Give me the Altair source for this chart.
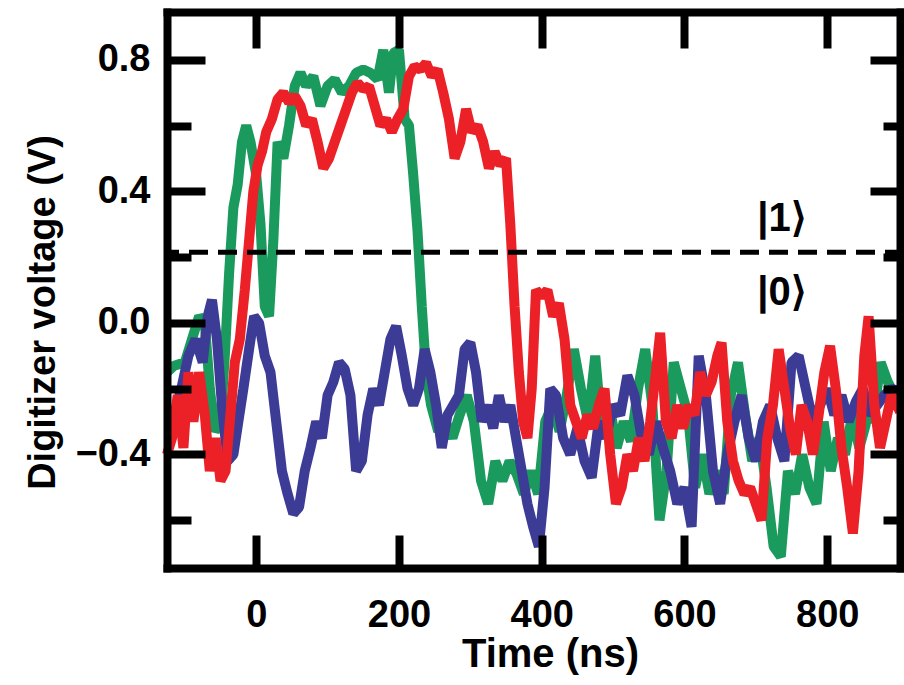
import altair as alt
import pandas as pd

# ---------------- data ----------------
green_t = [-125, -115, -100, -90, -80, -72, -65, -58, -50, -44, -38, -32, -26, -20, -14, -8, 0, 6, 12, 18,
           24, 30, 38, 46, 54, 62, 70, 80, 90, 100, 110, 120, 130, 140, 150, 160, 170, 178, 186, 192,
           200, 208, 214, 220, 226, 232, 238, 245, 255, 265, 275, 285, 295, 305, 315, 325, 335, 345, 355, 365,
           375, 385, 395, 405, 415, 425, 435, 445, 455, 465, 475, 485, 495, 505, 515, 525, 535, 545, 555, 565,
           575, 585, 595, 605, 615, 625, 635, 645, 655, 665, 675, 685, 695, 705, 715, 725, 735, 745, 755, 765,
           775, 785, 795, 805, 815, 825, 835, 845, 855, 865, 875, 885, 902]
green_v = [-0.15, -0.13, -0.12, -0.05, 0.02, 0.0, -0.20, -0.33, -0.30, -0.10, 0.15, 0.35, 0.42, 0.55, 0.60, 0.55, 0.45, 0.30, 0.05, 0.02,
           0.25, 0.55, 0.50, 0.60, 0.72, 0.76, 0.72, 0.75, 0.66, 0.72, 0.74, 0.70, 0.72, 0.76, 0.77, 0.76, 0.74, 0.83, 0.70, 0.82,
           0.83, 0.62, 0.60, 0.45, 0.28, 0.05, -0.15, -0.25, -0.33, -0.30, -0.35, -0.28, -0.22, -0.30, -0.48, -0.55, -0.42, -0.48, -0.42, -0.46,
           -0.52, -0.45, -0.52, -0.30, -0.25, -0.33, -0.22, -0.08, -0.20, -0.30, -0.10, -0.35, -0.25, -0.38, -0.30, -0.36, -0.20, -0.08, -0.25, -0.60,
           -0.45, -0.12, -0.20, -0.28, -0.50, -0.40, -0.52, -0.45, -0.52, -0.22, -0.12, -0.28, -0.42, -0.35, -0.50, -0.68, -0.71, -0.45, -0.52, -0.40,
           -0.50, -0.55, -0.30, -0.45, -0.35, -0.40, -0.28, -0.38, -0.30, -0.28, -0.12, -0.18, -0.25]

blue_t = [-125, -115, -105, -95, -85, -75, -68, -62, -55, -48, -40, -32, -25, -18, -10, -3, 4, 12, 20, 28,
          36, 44, 52, 60, 68, 76, 84, 92, 100, 108, 116, 124, 132, 140, 148, 156, 164, 172, 180, 188,
          196, 204, 212, 220, 228, 236, 244, 252, 260, 268, 276, 284, 292, 300, 308, 316, 324, 332, 340, 348,
          356, 364, 372, 380, 388, 396, 404, 412, 420, 430, 440, 450, 460, 470, 480, 490, 500, 510, 520, 530,
          540, 550, 560, 570, 580, 590, 600, 610, 620, 630, 640, 650, 660, 670, 680, 690, 700, 710, 720, 730,
          740, 750, 760, 770, 780, 790, 800, 810, 820, 830, 840, 850, 860, 870, 880, 890, 902]
blue_v = [-0.27, -0.28, -0.20, -0.10, -0.05, -0.12, 0.02, 0.07, -0.05, -0.25, -0.42, -0.40, -0.30, -0.20, -0.08, 0.02, 0.0, -0.10, -0.15, -0.30,
          -0.45, -0.52, -0.58, -0.56, -0.45, -0.38, -0.30, -0.35, -0.22, -0.18, -0.12, -0.14, -0.22, -0.45, -0.42, -0.28, -0.20, -0.25, -0.15, -0.05,
          -0.01, -0.10, -0.20, -0.25, -0.20, -0.08, -0.15, -0.25, -0.38, -0.28, -0.25, -0.22, -0.08, -0.06, -0.15, -0.30, -0.25, -0.32, -0.22, -0.30,
          -0.25, -0.35, -0.45, -0.55, -0.62, -0.68, -0.50, -0.20, -0.22, -0.35, -0.40, -0.32, -0.42, -0.47, -0.30, -0.35, -0.25, -0.28, -0.16, -0.22,
          -0.35, -0.40, -0.30, -0.38, -0.45, -0.55, -0.50, -0.62, -0.10, -0.22, -0.45, -0.55, -0.40, -0.30, -0.22, -0.35, -0.42, -0.30, -0.25, -0.35,
          -0.42, -0.12, -0.10, -0.20, -0.30, -0.25, -0.20, -0.28, -0.22, -0.30, -0.24, -0.20, -0.28, -0.25, -0.22, -0.20, -0.21]

red_t = [-125, -118, -110, -102, -95, -88, -80, -72, -65, -57, -50, -43, -37, -30, -23, -16, -10, -4, 2, 8,
         14, 22, 30, 38, 46, 54, 62, 70, 78, 86, 94, 102, 110, 118, 126, 134, 142, 150, 158, 166,
         174, 182, 190, 198, 206, 214, 222, 230, 238, 246, 254, 262, 270, 278, 286, 294, 302, 310, 318, 326,
         334, 342, 350, 356, 362, 368, 374, 380, 386, 392, 400, 408, 416, 424, 432, 440, 448, 456, 464, 472,
         480, 488, 496, 504, 512, 520, 528, 536, 544, 552, 560, 566, 574, 582, 590, 598, 606, 614, 622, 630,
         638, 646, 652, 660, 668, 676, 684, 692, 700, 708, 716, 724, 732, 740, 748, 756, 764, 772, 780, 788,
         796, 804, 812, 820, 828, 836, 844, 852, 858, 866, 874, 882, 890, 902]
red_v = [-0.40, -0.35, -0.22, -0.38, -0.15, -0.30, -0.15, -0.28, -0.45, -0.35, -0.48, -0.45, -0.30, -0.12, -0.05, 0.10, 0.25, 0.40, 0.48, 0.52,
         0.58, 0.62, 0.68, 0.70, 0.67, 0.69, 0.66, 0.60, 0.62, 0.55, 0.47, 0.50, 0.55, 0.60, 0.65, 0.70, 0.73, 0.71, 0.72, 0.66,
         0.60, 0.62, 0.58, 0.62, 0.65, 0.75, 0.78, 0.77, 0.79, 0.75, 0.77, 0.70, 0.62, 0.50, 0.55, 0.65, 0.58, 0.60, 0.55, 0.47,
         0.52, 0.48, 0.50, 0.30, 0.05, -0.15, -0.30, -0.35, -0.20, 0.10, 0.08, 0.10, 0.02, 0.06, -0.05, -0.25, -0.30, -0.35, -0.28, -0.32,
         -0.25, -0.20, -0.40, -0.55, -0.50, -0.40, -0.45, -0.35, -0.42, -0.30, -0.15, -0.03, -0.30, -0.35, -0.25, -0.32, -0.25, -0.28, -0.15, -0.22,
         -0.18, -0.10, -0.06, -0.30, -0.42, -0.48, -0.52, -0.50, -0.55, -0.60, -0.35, -0.25, -0.08, -0.20, -0.32, -0.40, -0.25, -0.30, -0.40, -0.28,
         -0.15, -0.07, -0.20, -0.38, -0.50, -0.64, -0.45, -0.10, 0.02, -0.25, -0.38, -0.30, -0.22, -0.27]

threshold = [0.215]
ket_labels = ["|1\u27e9", "|0\u27e9"]
ket_t = [702, 702]
ket_v = [0.315, 0.09]

x_major = [0, 200, 400, 600, 800]
y_major = [-0.4, 0.0, 0.4, 0.8]
y_minor = [-0.6, -0.2, 0.2, 0.6]

# ---------------- chart ----------------
FONT = "'Liberation Sans', Arial, sans-serif"
GREEN, BLUE, RED = "#1b9a5e", "#3c3c96", "#ec2027"

green_df = pd.DataFrame({"t": green_t, "v": green_v})
blue_df = pd.DataFrame({"t": blue_t, "v": blue_v})
red_df = pd.DataFrame({"t": red_t, "v": red_v})
thr_df = pd.DataFrame({"v": threshold})
ket_df = pd.DataFrame({"t": ket_t, "v": ket_v, "label": ket_labels})

xs = alt.Scale(domain=[-125, 902], nice=False, zero=False)
ys = alt.Scale(domain=[-0.745, 0.945], nice=False, zero=False)


def tick_axis(orient, values, size, **kw):
    return alt.Axis(orient=orient, values=values, ticks=True, tickSize=size, tickWidth=8,
                    tickColor="black", offset=-size, labels=False, domain=False, grid=False,
                    title="", zindex=1, **kw)


def frame_axis(orient):
    return alt.Axis(orient=orient, ticks=False, labels=False, domain=True, domainWidth=8,
                    domainColor="black", domainCap="square", grid=False, title="", zindex=1)


x_label_axis = alt.Axis(orient="bottom", values=x_major, format="d", ticks=False, tickSize=0,
                        labelFont=FONT, labelFontSize=38, labelFontWeight="bold", labelColor="black",
                        labelPadding=28, labelOverlap=False, labelFlush=False,
                        domain=True, domainWidth=8, domainColor="black", domainCap="square", grid=False,
                        title="Time (ns)", titleFont=FONT, titleFontSize=40, titleFontWeight="bold",
                        titleColor="black", titleX=383, titleY=98, titleBaseline="alphabetic",
                        titleAlign="center", zindex=1)
y_label_axis = alt.Axis(orient="left", values=y_major, format=".1f", ticks=False, tickSize=0,
                        labelFont=FONT, labelFontSize=38, labelFontWeight="bold", labelColor="black",
                        labelPadding=17, labelOverlap=False, labelFlush=False,
                        domain=True, domainWidth=8, domainColor="black", domainCap="square", grid=False,
                        title="Digitizer voltage (V)", titleFont=FONT, titleFontSize=38,
                        titleFontWeight="bold", titleColor="black", titleAngle=270,
                        titleX=-113, titleY=300, titleBaseline="alphabetic", titleAlign="center",
                        zindex=1)

line_props = dict(strokeWidth=10, strokeJoin="bevel")

green = alt.Chart(green_df).mark_line(color=GREEN, **line_props).encode(
    x=alt.X("t:Q", scale=xs, axis=x_label_axis),
    y=alt.Y("v:Q", scale=ys, axis=y_label_axis),
)
blue = alt.Chart(blue_df).mark_line(color=BLUE, **line_props).encode(
    x=alt.X("t:Q", scale=xs, axis=None),
    y=alt.Y("v:Q", scale=ys, axis=None),
)
red = alt.Chart(red_df).mark_line(color=RED, **line_props).encode(
    x=alt.X("t:Q", scale=xs, axis=None),
    y=alt.Y("v:Q", scale=ys, axis=None),
)
dashed = alt.Chart(thr_df).mark_rule(color="black", strokeWidth=5, strokeDash=[19, 10],
                                     strokeDashOffset=4).encode(
    y=alt.Y("v:Q", scale=ys, axis=None),
)
kets = alt.Chart(ket_df).mark_text(align="left", baseline="middle", font=FONT, fontSize=40,
                                   fontWeight="bold", color="black").encode(
    x=alt.X("t:Q", scale=xs, axis=None),
    y=alt.Y("v:Q", scale=ys, axis=None),
    text="label:N",
)

ticks_a = alt.Chart(green_df).mark_point(opacity=0).encode(
    x=alt.X("t:Q", scale=xs, axis=tick_axis("bottom", x_major, 33)),
    y=alt.Y("v:Q", scale=ys, axis=tick_axis("left", y_major, 38)),
)
ticks_b = alt.Chart(green_df).mark_point(opacity=0).encode(
    x=alt.X("t:Q", scale=xs, axis=tick_axis("top", x_major, 36)),
    y=alt.Y("v:Q", scale=ys, axis=tick_axis("right", y_major, 30)),
)
ticks_c = alt.Chart(green_df).mark_point(opacity=0).encode(
    y=alt.Y("v:Q", scale=ys, axis=tick_axis("left", y_minor, 24)),
)
ticks_d = alt.Chart(green_df).mark_point(opacity=0).encode(
    y=alt.Y("v:Q", scale=ys, axis=tick_axis("right", y_minor, 17)),
)
frame = alt.Chart(green_df).mark_point(opacity=0).encode(
    x=alt.X("t:Q", scale=xs, axis=frame_axis("top")),
    y=alt.Y("v:Q", scale=ys, axis=frame_axis("right")),
)

chart = alt.layer(
    green, blue, red, dashed, kets, ticks_a, ticks_b, ticks_c, ticks_d, frame
).resolve_axis(
    x="independent", y="independent"
).properties(
    width=733, height=556,
    autosize=alt.AutoSizeParams(type="none"),
    padding={"left": 167, "top": 12, "right": 4, "bottom": 117},
    background="white",
).configure_view(stroke=None)

chart.save("out.html", embed_options={"renderer": "svg", "actions": False})
